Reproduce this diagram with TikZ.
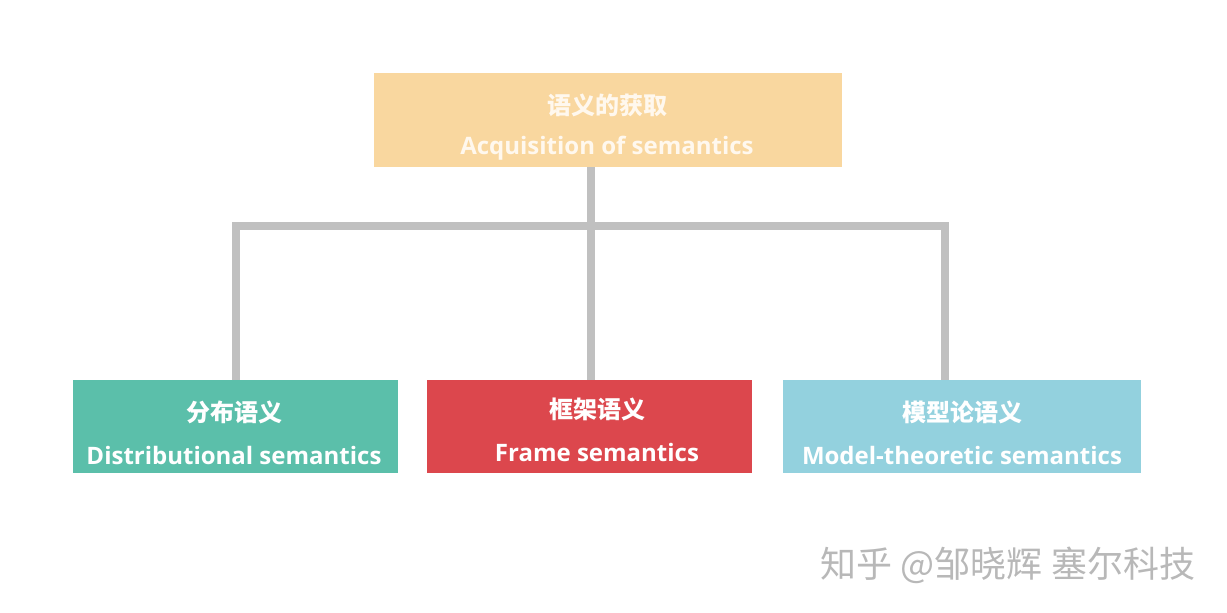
\documentclass[tikz,border=0pt]{standalone}
\usepackage{fontspec}
\setmainfont{Open Sans}
\newfontfamily\cjk{Noto Sans CJK SC}
\definecolor{topc}{HTML}{F9D79F}
\definecolor{greenc}{HTML}{5BBFAA}
\definecolor{redc}{HTML}{DC474D}
\definecolor{bluec}{HTML}{93D1DE}
\definecolor{linec}{HTML}{C0C0C0}
\definecolor{wmc}{HTML}{B8B8B8}
\definecolor{toptext}{HTML}{FFF8EE}
\tikzset{
  box/.style={fill=#1, draw=none, inner sep=0pt, anchor=north west},
  zh/.style={font=\cjk\bfseries\fontsize{24}{28}\selectfont, text=white, inner sep=0pt},
  en/.style={font=\bfseries\fontsize{24}{28}\selectfont, text=white, inner sep=0pt},
  conn/.style={draw=linec, line width=8pt, line join=miter},
}
\begin{document}
\begin{tikzpicture}[x=1pt,y=-1pt]
\useasboundingbox (0,0) rectangle (1227,613);
% boxes
\node[box=topc, minimum width=468pt, minimum height=94pt] (top) at (374,73) {};
\node[box=greenc, minimum width=325pt, minimum height=93pt] (dist) at (73,380) {};
\node[box=redc, minimum width=325pt, minimum height=93pt] (frame) at (427,380) {};
\node[box=bluec, minimum width=358pt, minimum height=93pt] (model) at (783,380) {};
% texts
\node[zh, text=toptext] (t1) at (607,105) {语义的获取};
\node[en, text=toptext] (t2) at (607,148) {Acquisition of semantics};
\node[zh] (d1) at (234,412) {分布语义};
\node[en] (d2) at (234,455) {Distributional semantics};
\node[zh] (f1) at (597,409) {框架语义};
\node[en] (f2) at (597,452) {Frame semantics};
\node[zh] (m1) at (962,412) {模型论语义};
\node[en] (m2) at (962,455) {Model-theoretic semantics};
% connectors
\coordinate (trunk) at (591,226);
\coordinate (rightend) at (945,226);
\draw[conn] (top.south -| trunk) -- (trunk |- frame.north);
\draw[conn] (dist.north) |- (rightend) -- (rightend |- model.north);
% watermark
\node[font=\cjk\fontsize{36}{40}\selectfont, text=wmc, inner sep=0pt] (wm) at (1008,565) {知乎 @邹晓辉 塞尔科技};
\end{tikzpicture}
\end{document}
